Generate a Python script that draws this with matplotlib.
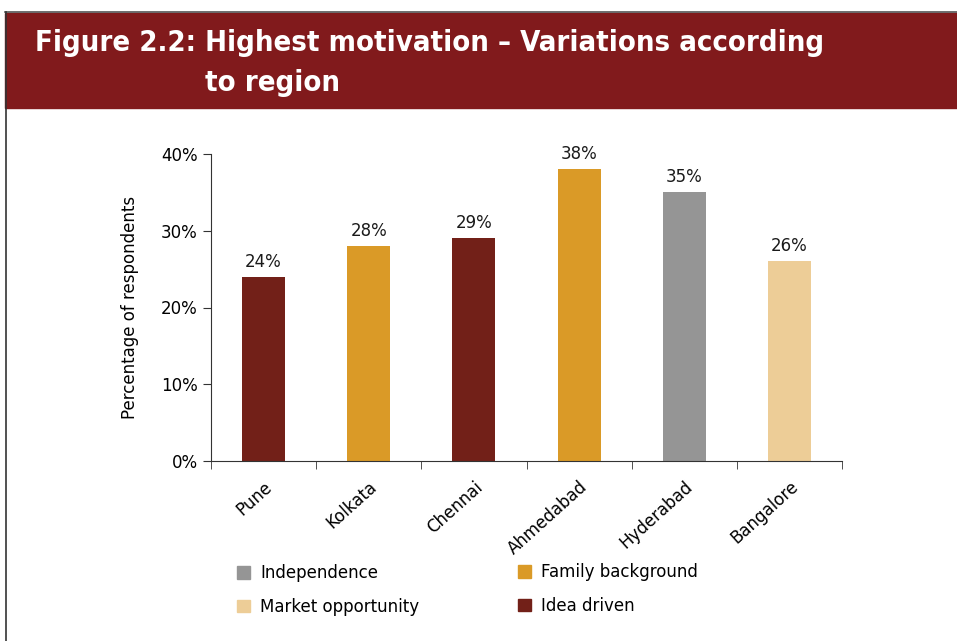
import numpy as np
import matplotlib.pyplot as plt
from matplotlib.patches import Rectangle, Patch
from matplotlib.lines import Line2D

# Data
regions = ["Pune", "Kolkata", "Chennai", "Ahmedabad", "Hyderabad", "Bangalore"]
values = [24, 28, 29, 38, 35, 26]
motivation = ["Idea driven", "Family background", "Idea driven",
              "Family background", "Independence", "Market opportunity"]
legend_left = ["Independence", "Market opportunity"]
legend_right = ["Family background", "Idea driven"]

colors = {
    "Idea driven": "#722018",
    "Family background": "#DA9A27",
    "Independence": "#959595",
    "Market opportunity": "#EDCD97",
}

plt.rcParams['font.family'] = ['DejaVu Sans']

fig = plt.figure(figsize=(9.57, 6.41), dpi=100)

# Header band
fig.patches.append(Rectangle((5 / 957, 1 - 108 / 641), 1, 95 / 641,
                             transform=fig.transFigure, color="#811A1C", zorder=0))
fig.add_artist(Line2D([5 / 957, 1], [1 - 12 / 641, 1 - 12 / 641],
                      transform=fig.transFigure, color="#555555", lw=1.2))
fig.add_artist(Line2D([5.5 / 957, 5.5 / 957], [0, 1 - 12 / 641],
                      transform=fig.transFigure, color="#333333", lw=1.2))
fig.text(35 / 957, 1 - 43 / 641, "Figure 2.2: Highest motivation \u2013 Variations according",
         color="white", fontsize=21, fontweight="bold", fontstretch="condensed",
         va="center", ha="left")
fig.text(205 / 957, 1 - 83 / 641, "to region",
         color="white", fontsize=21, fontweight="bold", fontstretch="condensed",
         va="center", ha="left")

ax = fig.add_axes([211 / 957, 1 - 461 / 641, 631 / 957, 307 / 641])

x = np.arange(len(regions))
ax.bar(x, values, width=0.41, color=[colors[m] for m in motivation], zorder=2)
for xi, v in zip(x, values):
    ax.text(xi, v + 0.8, f"{v}%", ha="center", va="bottom", fontsize=12, color="#1a1a1a")

ax.set_xlim(-0.5, len(regions) - 0.5)
ax.set_ylim(0, 40)
ax.set_yticks([0, 10, 20, 30, 40])
ax.set_yticklabels([f"{t}%" for t in [0, 10, 20, 30, 40]], fontsize=12)
ax.set_ylabel("Percentage of respondents", fontsize=12, labelpad=16)

# tick marks at boundaries, labels at centres
ax.set_xticks(np.arange(-0.5, len(regions)), minor=True)
ax.set_xticks(x)
ax.set_xticklabels(regions, rotation=42, ha="right", rotation_mode="anchor", fontsize=12)
ax.tick_params(axis="x", which="major", length=0, pad=12)
ax.tick_params(axis="x", which="minor", length=6, direction="out", color="#333333")
ax.tick_params(axis="y", length=6, direction="out", color="#333333")

for s in ["top", "right"]:
    ax.spines[s].set_visible(False)
ax.spines["left"].set_color("#333333")
ax.spines["bottom"].set_color("#333333")

leg_kw = dict(loc="upper left", frameon=False, fontsize=12, handlelength=0.8,
              handleheight=0.8, labelspacing=0.95, handletextpad=0.6)
fig.legend([Patch(color=colors[k]) for k in legend_left], legend_left,
           bbox_to_anchor=(222 / 957, 1 - 549 / 641), **leg_kw)
fig.legend([Patch(color=colors[k]) for k in legend_right], legend_right,
           bbox_to_anchor=(503 / 957, 1 - 548 / 641), **leg_kw)

fig.savefig("out.png", dpi=100)
